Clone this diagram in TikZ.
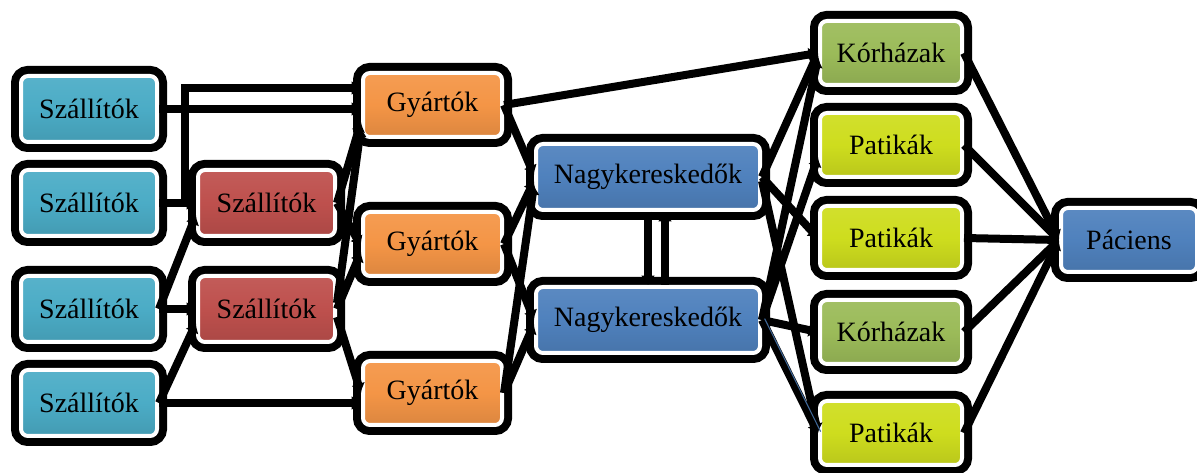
\documentclass[tikz,border=0pt]{standalone}
\usepackage{fontspec}
\setmainfont{Liberation Serif}
\usetikzlibrary{arrows.meta,calc}
\definecolor{cTeal}{RGB}{75,172,198}
\definecolor{cRed}{RGB}{190,80,77}
\definecolor{cOrange}{RGB}{244,149,70}
\definecolor{cBlue}{RGB}{79,129,189}
\definecolor{cGreen}{RGB}{155,187,89}
\definecolor{cLime}{RGB}{206,221,30}
\tikzset{
  box/.style={rectangle, rounded corners=5.25pt, inner sep=0pt,
    draw=white, line width=3pt,
    top color=#1!93!white, bottom color=#1!90!black, middle color=#1,
    preaction={draw=black, line width=15pt},
    font=\fontsize{21}{25}\selectfont, text=black},
  wide/.style={minimum width=102pt, minimum height=49.5pt},
  gbox/.style={minimum width=104.25pt, minimum height=48pt},
  nbox/.style={minimum width=168pt, minimum height=49.5pt},
  rbox/.style={minimum width=106.5pt, minimum height=48pt},
  conn/.style={draw=black, line width=6pt,
    -{Latex[length=7pt,width=11pt]}},
  innerline/.style={draw=cBlue!80!black, line width=0.8pt},
}
\begin{document}
\begin{tikzpicture}[x=0.75pt, y=-0.75pt]
\clip (0,0) rectangle (1197,473);

% suppliers
\node[box=cTeal, wide] (S1) at (89,109) {Szállítók};
\node[box=cTeal, wide] (S2) at (89,203) {Szállítók};
\node[box=cTeal, wide] (S3) at (89,309) {Szállítók};
\node[box=cTeal, wide] (S4) at (89,403) {Szállítók};
\node[box=cRed, wide, minimum width=102.75pt] (R1) at (266.5,203) {Szállítók};
\node[box=cRed, wide, minimum width=102.75pt] (R2) at (266.5,309) {Szállítók};

% manufacturers
\node[box=cOrange, gbox] (G1) at (432.5,105) {Gyártók};
\node[box=cOrange, gbox] (G2) at (432.5,244) {Gyártók};
\node[box=cOrange, gbox] (G3) at (432.5,393) {Gyártók};

% wholesalers
\node[box=cBlue, nbox] (N1) at (648,177) {Nagykereskedők};
\node[box=cBlue, nbox] (N2) at (648,320) {Nagykereskedők};

% hospitals and pharmacies
\node[box=cGreen, rbox] (K1) at (891,53) {Kórházak};
\node[box=cLime, rbox] (P1) at (891,145) {Patikák};
\node[box=cLime, rbox] (P2) at (891,238) {Patikák};
\node[box=cGreen, rbox] (K2) at (891,332) {Kórházak};
\node[box=cLime, rbox] (P3) at (891,433) {Patikák};

% patient
\node[box=cBlue, gbox, minimum width=102pt] (Pa) at (1129,240) {Páciens};

% suppliers -> second tier / manufacturers
\draw[conn] (S1.east) -- (S1.east -| G1.west);
\draw[conn] (S2.east) -- ++(26,0) |- ($(G1.west)+(0,-17)$);
\draw[conn] (S2.east) -- (R1.west);
\draw[conn] (S3.east) -- ($(R1.west)+(0,12)$);
\draw[conn] (S3.east) -- (R2.west);
\draw[conn] (S4.east) -- ($(R2.west)+(0,14)$);
\draw[conn] (S4.east) -- (S4.east -| G3.west);
\draw[conn] (R1.east) -- ($(G1.west)+(0,17)$);
\draw[conn] (R1.east) -- ($(G2.west)+(0,2)$);
\draw[conn] ($(R2.east)+(0,-6)$) -- ($(G1.west)+(0,22)$);
\draw[conn] (R2.east) -- ($(G2.west)+(0,8)$);
\draw[conn] ($(R2.east)+(0,8)$) -- (G3.west);

% manufacturers -> wholesalers / hospital
\draw[conn] (G1.east) -- (K1.west);
\draw[conn] (G1.east) -- ($(N1.west)+(0,-2)$);
\draw[conn] (G2.east) -- ($(N1.west)+(0,4)$);
\draw[conn] (G2.east) -- (N2.west);
\draw[conn] (G3.east) -- ($(N1.west)+(0,8)$);
\draw[conn] (G3.east) -- ($(N2.west)+(0,4)$);

% between the wholesalers
\draw[conn] (N1.south) -- (N2.north);
\draw[conn] ($(N2.north)+(17,0)$) -- ($(N1.south)+(17,0)$);

% wholesalers -> hospitals and pharmacies
\draw[conn] (N1.east) -- (K1.west);
\draw[conn] (N1.east) -- (P2.west);
\draw[conn] ($(N1.east)+(0,4)$) -- (P3.west);
\draw[conn] (N2.east) -- ($(K1.west)+(0,5)$);
\draw[conn] (N2.east) -- ($(P1.west)+(0,12)$);
\draw[conn] (N2.east) -- (K2.west);
\draw[conn] (N2.east) -- (P3.west);
\draw[innerline] ($(N2.east)+(2.6,-1.4)$) -- ($(P3.west)+(2.6,-1.4)$);

% hospitals and pharmacies -> patient
\draw[conn] (K1.east) -- (Pa.west);
\draw[conn] (P1.east) -- (Pa.west);
\draw[conn] (P2.east) -- (Pa.west);
\draw[conn] (K2.east) -- (Pa.west);
\draw[conn] (P3.east) -- (Pa.west);
\end{tikzpicture}
\end{document}
